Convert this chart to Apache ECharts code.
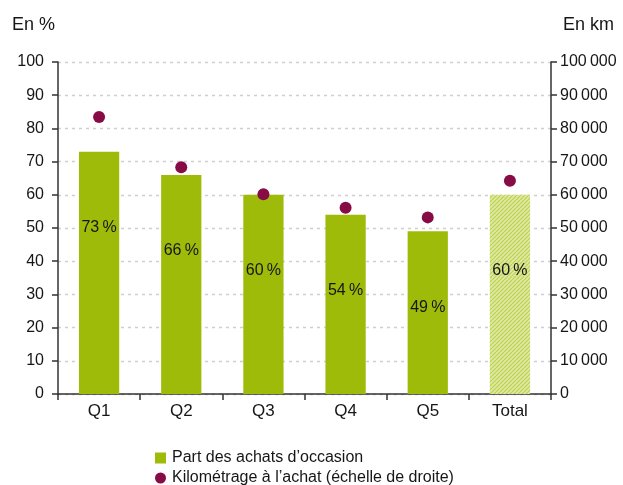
<!DOCTYPE html>
<html><head><meta charset="utf-8">
<script src="https://cdn.jsdelivr.net/npm/echarts@6/dist/echarts.min.js"></script>
<style>html,body{margin:0;padding:0;background:#fff}#c{width:623px;height:485px}</style>
</head><body><div id="c"></div>
<script>
const categories = ['Q1','Q2','Q3','Q4','Q5','Total'];
const partOccasion = [73, 66, 60, 54, 49, 60];
const kilometrage = [83400, 68300, 60200, 56100, 53200, 64200];
const seriesNames = ['Part des achats d\u2019occasion', 'Kilométrage à l\u2019achat (échelle de droite)'];

const FONT = 'Liberation Sans, Arial, sans-serif';
const TXT = '#161616';

function hatch(){
  const s = 4;
  const c = document.createElement('canvas');
  c.width = s; c.height = s;
  const g = c.getContext('2d');
  g.fillStyle = '#dfe9a2'; g.fillRect(0,0,s,s);
  g.strokeStyle = '#bcd24f'; g.lineWidth = 1.2;
  for (let k=-s;k<=s;k+=s){ g.beginPath(); g.moveTo(k,s); g.lineTo(k+s,0); g.stroke(); }
  return c;
}

const chart = echarts.init(document.getElementById('c'), null, {renderer:'canvas'});
const fmtKm = v => v === 0 ? '0' : String(v).replace(/\B(?=(\d{3})+(?!\d))/g, '\u2009');
const axisCol = '#333';

chart.setOption({
  animation:false,
  textStyle:{fontFamily:FONT},
  grid:{left:58, right:72, top:62, bottom:91},
  graphic:[
    {type:'text', left:12, top:16, style:{text:'En %', font:'18px '+FONT, fill:TXT}},
    {type:'text', left:563, top:16, style:{text:'En km', font:'18px '+FONT, fill:TXT}}
  ],
  legend:[
    {left:150, top:448, padding:[2,5,2,5], itemWidth:11, itemHeight:11, itemGap:6,
     textStyle:{fontSize:16, color:TXT, fontFamily:FONT, padding:[0,0,0,1]},
     data:[{name:seriesNames[0], icon:'rect'}]},
    {left:150, top:468, padding:[2,5,2,5], itemWidth:11, itemHeight:11,
     textStyle:{fontSize:16, color:TXT, fontFamily:FONT, padding:[0,0,0,1]},
     data:[{name:seriesNames[1], icon:'circle'}]}
  ],
  xAxis:{
    type:'category', data:categories,
    axisLine:{lineStyle:{color:axisCol, width:1.5}},
    axisTick:{show:true, length:6, lineStyle:{color:axisCol, width:1.5}},
    axisLabel:{fontSize:17, color:TXT, margin:9}
  },
  yAxis:[
    {type:'value', min:0, max:100, interval:10,
     axisLine:{show:true, lineStyle:{color:axisCol, width:1.5}},
     axisTick:{show:true, length:6, lineStyle:{color:axisCol, width:1.5}},
     axisLabel:{fontSize:16, color:TXT, margin:14},
     splitLine:{show:true, lineStyle:{color:'#cfcfcf', type:[3,4], width:1.3}}
    },
    {type:'value', min:0, max:100000, interval:10000,
     axisLine:{show:true, lineStyle:{color:axisCol, width:1.5}},
     axisTick:{show:true, length:6, lineStyle:{color:axisCol, width:1.5}},
     axisLabel:{fontSize:16, color:TXT, margin:9, formatter:fmtKm},
     splitLine:{show:false}
    }
  ],
  series:[
    {name:seriesNames[0], type:'bar', barWidth:'49%',
     data: partOccasion.map((v,i)=> i===categories.length-1 ? {value:v, itemStyle:{color:{image:hatch(), repeat:'repeat'}}} : v),
     itemStyle:{color:'#9fbb0a'},
     label:{show:true, position:'insideTop', distance:68, formatter:'{c}\u2009%', fontSize:16, color:TXT, fontFamily:FONT}
    },
    {name:seriesNames[1], type:'scatter', yAxisIndex:1,
     data: kilometrage, symbolSize:12, itemStyle:{color:'#870b45', opacity:1}, z:5}
  ]
});
</script></body></html>
